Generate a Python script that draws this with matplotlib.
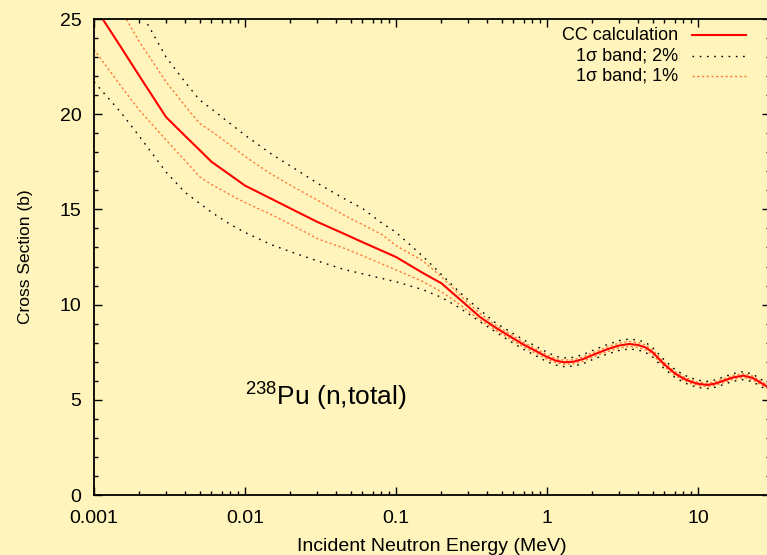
import matplotlib
matplotlib.use("Agg")
from matplotlib import pyplot as plt
from matplotlib.ticker import FixedLocator, FixedFormatter

plt.rcParams['font.family'] = ['Liberation Sans', 'DejaVu Sans']
plt.rcParams['mathtext.fontset'] = 'custom'
plt.rcParams['mathtext.rm'] = 'Liberation Sans'

# incident energy grid (MeV)
energy = [0.001, 0.0015, 0.002, 0.003, 0.004, 0.005, 0.006, 0.008, 0.01,
          0.015, 0.02, 0.03, 0.045, 0.06, 0.08, 0.1,
          0.15, 0.2, 0.25, 0.3, 0.36, 0.45, 0.55, 0.7, 0.85, 1.0,
          1.15, 1.3, 1.5, 1.75, 2.0, 2.5, 3.0, 3.5, 4.0, 4.5, 5.0,
          6.0, 7.0, 8.0, 9.0, 10.0,
          11.5, 13.0, 15.0, 17.0, 20.0, 23.0, 26.0, 30.0]

# CC calculation (b)
cc = [25.7, 23.55, 22.0, 19.85, 18.87, 18.12, 17.5, 16.8, 16.25,
      15.55, 15.05, 14.35, 13.73, 13.28, 12.84, 12.5,
      11.67, 11.12, 10.45, 9.9, 9.35, 8.82, 8.4, 7.9, 7.55, 7.25,
      7.05, 6.97, 7.0, 7.15, 7.35, 7.65, 7.85, 7.93, 7.88, 7.75, 7.5,
      6.85, 6.4, 6.12, 5.95, 5.84,
      5.78, 5.85, 6.02, 6.17, 6.27, 6.15, 5.9, 5.6]

# 1 sigma band, 2%
hi2 = [29.7, 27.2, 25.5, 23.0, 21.7, 20.75, 20.28, 19.5, 18.9,
       17.9, 17.28, 16.39, 15.58, 15.05, 14.3, 13.8,
       12.55, 11.58, 10.83, 10.25, 9.72, 9.08, 8.65, 8.15, 7.8, 7.5,
       7.28, 7.2, 7.23, 7.39, 7.59, 7.9, 8.11, 8.19, 8.14, 8.01, 7.75,
       7.08, 6.61, 6.32, 6.15, 6.03,
       5.97, 6.04, 6.22, 6.37, 6.48, 6.35, 6.09, 5.78]
lo2 = [21.7, 20.11, 18.83, 16.96, 15.9, 15.32, 14.85, 14.21, 13.79,
       13.14, 12.78, 12.3, 11.85, 11.62, 11.38, 11.2,
       10.79, 10.38, 9.94, 9.53, 9.1, 8.6, 8.15, 7.65, 7.3, 7.0,
       6.82, 6.74, 6.77, 6.91, 7.11, 7.4, 7.59, 7.67, 7.62, 7.49, 7.25,
       6.62, 6.19, 5.92, 5.75, 5.65,
       5.59, 5.66, 5.82, 5.97, 6.06, 5.95, 5.71, 5.42]

# 1 sigma band, 1%
hi1 = [27.9, 25.5, 23.8, 21.7, 20.45, 19.52, 19.1, 18.37, 17.78,
       16.84, 16.27, 15.5, 14.71, 14.2, 13.7, 13.1,
       12.31, 11.46, 10.71, 10.1, 9.54, 8.95, 8.53, 8.02, 7.67, 7.37,
       7.16, 7.08, 7.11, 7.27, 7.47, 7.77, 7.98, 8.06, 8.01, 7.88, 7.62,
       6.96, 6.5, 6.22, 6.05, 5.93,
       5.87, 5.94, 6.12, 6.27, 6.37, 6.25, 6.0, 5.69]
lo1 = [23.4, 21.5, 20.2, 18.65, 17.57, 16.72, 16.31, 15.76, 15.36,
       14.72, 14.22, 13.47, 12.97, 12.57, 12.15, 11.82,
       11.22, 10.67, 10.15, 9.67, 9.19, 8.69, 8.27, 7.78, 7.43, 7.13,
       6.94, 6.86, 6.89, 7.03, 7.23, 7.53, 7.72, 7.8, 7.75, 7.62, 7.38,
       6.74, 6.3, 6.02, 5.85, 5.75,
       5.69, 5.76, 5.92, 6.07, 6.17, 6.05, 5.8, 5.51]

xticks = [0.001, 0.01, 0.1, 1, 10]
xticklabels = ["0.001", "0.01", "0.1", "1", "10"]
yticks = [0, 5, 10, 15, 20, 25]

bg = '#fff4bb'
orange = '#ff7a3a'
dot_black = (0, (1.2, 4))
dot_orange = (0, (1.6, 1.8))

fig = plt.figure(figsize=(7.67, 5.55), dpi=100, facecolor=bg)
ax = fig.add_axes([94 / 767, 60 / 555, 676 / 767, 476 / 555])
ax.set_facecolor(bg)

ax.plot(energy, hi2, color='black', lw=1.0, ls=dot_black)
ax.plot(energy, lo2, color='black', lw=1.0, ls=dot_black)
ax.plot(energy, hi1, color=orange, lw=1.0, ls=dot_orange)
ax.plot(energy, lo1, color=orange, lw=1.0, ls=dot_orange)
ax.plot(energy, cc, color='#ff0000', lw=1.5)

ax.set_xscale('log')
ax.set_xlim(0.001, 30)
ax.set_ylim(0, 25)

ax.xaxis.set_major_locator(FixedLocator(xticks))
ax.xaxis.set_major_formatter(FixedFormatter(xticklabels))
# gnuplot only puts minor ticks inside full decades
minors = [m * 10.0 ** d for d in range(-3, 1) for m in range(2, 10)]
ax.xaxis.set_minor_locator(FixedLocator(minors))
ax.xaxis.set_minor_formatter(FixedFormatter([""] * len(minors)))
ax.set_yticks(yticks)
ax.set_yticks(range(0, 26), minor=True)

ax.tick_params(which='both', direction='in', top=True, right=True,
               labelsize=14, width=1.0)
ax.tick_params(which='major', length=6)
ax.tick_params(which='minor', length=3)
ax.tick_params(axis='x', pad=11)
ax.tick_params(axis='y', pad=9)
for s in ax.spines.values():
    s.set_linewidth(1.3)

ax.set_xlabel("Incident Neutron Energy (MeV)", fontsize=14, labelpad=8)
ax.set_ylabel("Cross Section (b)", fontsize=12.5, labelpad=19)

ax.text(0.2234, 0.189, r'$^{\mathregular{238}}$Pu (n,total)', fontsize=19,
        transform=ax.transAxes, ha='left', va='baseline')

# legend drawn gnuplot style: text right aligned, sample on the right
legend = [("CC calculation", '#ff0000', '-', 1.5),
          ("1\u03c3 band; 2%", 'black', dot_black, 1.0),
          ("1\u03c3 band; 1%", orange, dot_orange, 1.0)]
rows = [0.966, 0.922, 0.880]
for (lab, col, ls, lw), yy in zip(legend, rows):
    ax.text(0.864, yy, lab, fontsize=13, transform=ax.transAxes,
            ha='right', va='center')
    ax.plot([0.885, 0.9645], [yy, yy], color=col, ls=ls, lw=lw,
            transform=ax.transAxes)

fig.savefig("out.png", dpi=100, facecolor=bg)
